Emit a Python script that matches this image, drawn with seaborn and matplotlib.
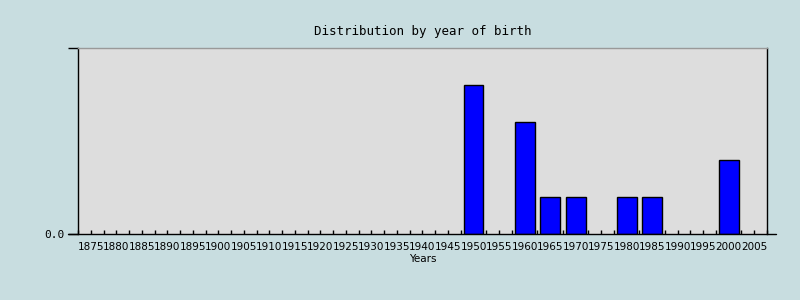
import matplotlib
matplotlib.use("Agg")
import matplotlib.pyplot as plt
import seaborn as sns
import pandas as pd
from matplotlib.lines import Line2D

years = [str(y) for y in range(1875, 2010, 5)]
bar_years = ["1950", "1960", "1965", "1970", "1980", "1985", "2000"]
bar_counts = [4, 3, 1, 1, 1, 1, 2]

df = pd.DataFrame({"year": bar_years, "count": bar_counts})

sns.set_style("white")
plt.rcParams["font.family"] = ["DejaVu Sans"]
plt.rcParams["text.color"] = "black"
plt.rcParams["xtick.color"] = "black"
plt.rcParams["ytick.color"] = "black"
plt.rcParams["axes.labelcolor"] = "black"

fig = plt.figure(figsize=(8, 3), dpi=100)
fig.patch.set_facecolor("#C8DDE0")
ax = fig.add_axes([0.0975, 0.22, 0.86125, 0.62])
ax.set_facecolor("#DDDDDD")

sns.barplot(data=df, x="year", y="count", order=years, color="#0000FF",
            edgecolor="black", linewidth=1, width=0.78, saturation=1, ax=ax)

ax.set_ylim(0, 5)
ax.set_xlim(-0.5, len(years) - 0.5)
ax.set_yticks([0, 5])
ax.set_yticklabels(["0.0", ""], family="DejaVu Sans Mono", fontsize=8)
ax.tick_params(axis="y", left=True, direction="out", length=7, width=1,
               color="black", pad=3)
ax.set_xticks(range(len(years)))
ax.set_xticklabels(years, fontsize=7.5)
ax.tick_params(axis="x", bottom=True, direction="in", length=3, width=1,
               color="black", pad=6)
ax.set_xticks([i - 0.5 for i in range(len(years) + 1)], minor=True)
ax.tick_params(axis="x", which="minor", bottom=True, direction="in", length=3,
               width=1, color="black")

ax.set_xlabel("Years", fontsize=7.5, labelpad=1)
ax.set_ylabel("")
ax.set_title("Distribution by year of birth", family="DejaVu Sans Mono",
             fontsize=9, pad=9)

for s in ["left", "bottom", "right"]:
    ax.spines[s].set_color("black")
    ax.spines[s].set_linewidth(1)
ax.spines["top"].set_color("#999999")
ax.spines["top"].set_linewidth(1)
ax.spines["bottom"].set_visible(False)
ax.add_line(Line2D([-0.015, 1.013], [0, 0], transform=ax.transAxes,
                   color="black", linewidth=1, clip_on=False))

fig.savefig("out.png", dpi=100, facecolor=fig.get_facecolor())
